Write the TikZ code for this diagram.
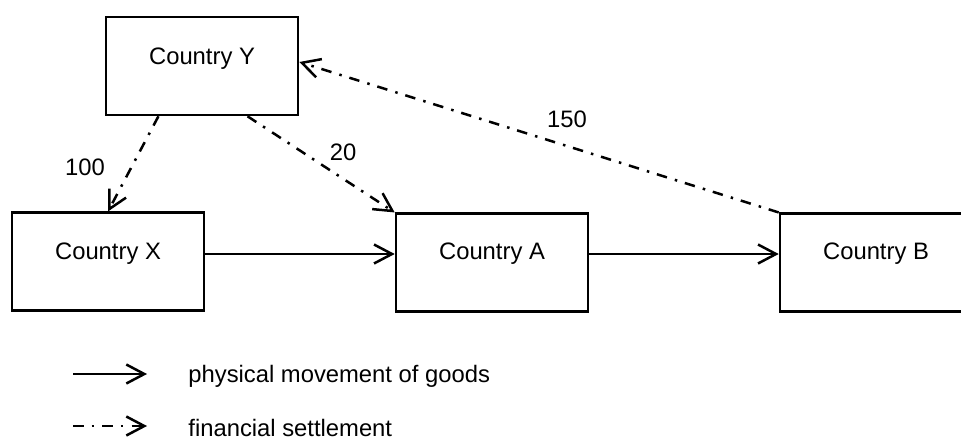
\documentclass[tikz,border=0pt]{standalone}
\usepackage{fontspec}
\setmainfont{Liberation Sans}
\usetikzlibrary{arrows.meta,calc}
\begin{document}
\begin{tikzpicture}[x=0.5pt,y=-0.5pt,
  box/.style={draw, line width=1.3pt, minimum width=96pt, minimum height=48.75pt, inner sep=0pt},
  lbl/.style={font=\fontsize{11.9pt}{14pt}\selectfont, inner sep=0pt},
  goods/.style={line width=1.25pt, -{Straight Barb[length=9pt,width=9.5pt,line width=1.25pt]}},
  money/.style={goods, dash pattern=on 5.25pt off 4pt on 1.25pt off 4.15pt}]
\useasboundingbox (0,0) rectangle (961,439);
\clip (0,0) rectangle (961,439);
% boxes
\node[box, minimum height=49pt] (Y) at (202,66) {};
\node[box] (X) at (108,261.5) {};
\node[box] (A) at (492,262.5) {};
\node[box] (B) at (876,262.5) {};
% box labels
\node[lbl] (Yt) at (202,59) {Country Y};
\node[lbl] (Xt) at (108,254) {Country X};
\node[lbl] (At) at (492,254) {Country A};
\node[lbl] (Bt) at (876,254) {Country B};
% goods flows
\draw[goods] (X.east |- Xt) -- (A.west |- At);
\draw[goods] (A.east |- At) -- (B.west |- Bt);
% financial settlements
\draw[money] ($(Y.south west)!0.276!(Y.south east)$) -- (X.north);
\draw[money] ($(Y.south west)!0.734!(Y.south east)$) -- (A.north west);
\draw[money] (B.north west) -- ([yshift=2pt]Y.east);
% amounts
\node[lbl] (n100) at (85,167) {100};
\node[lbl] (n20) at (343,152) {20};
\node[lbl] (n150) at (567,119) {150};
% legend
\coordinate (g1) at (73,374);
\coordinate (g2) at (147,374);
\coordinate (f1) at (73,426);
\coordinate (f2) at (147,426);
\draw[goods] (g1) -- (g2);
\draw[money] (f1) -- (f2);
\node[lbl, anchor=west] (gt) at (188,376) {physical movement of goods};
\node[lbl, anchor=west] (ft) at (188,428) {financial settlement};
\end{tikzpicture}
\end{document}
